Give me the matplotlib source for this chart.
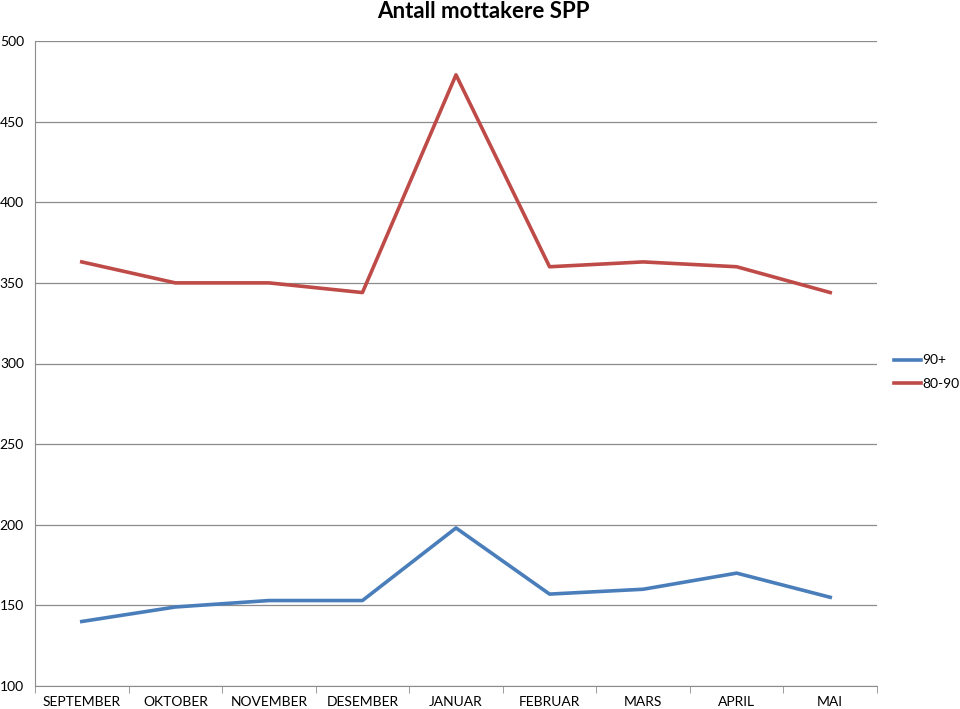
import numpy as np
import matplotlib.pyplot as plt

plt.rcParams['font.family'] = ['Lato', 'DejaVu Sans']

# Data
months = ["SEPTEMBER", "OKTOBER", "NOVEMBER", "DESEMBER", "JANUAR",
          "FEBRUAR", "MARS", "APRIL", "MAI"]
over_90 = [140, 149, 153, 153, 198, 157, 160, 170, 155]
age_80_90 = [363, 350, 350, 344, 479, 360, 363, 360, 344]

fig = plt.figure(figsize=(9.6, 7.09), dpi=100)
ax = fig.add_axes([35/960, 23/709, 842/960, 645/709])

x = np.arange(len(months))
ax.plot(x, over_90, color='#4A7EBB', linewidth=2.6, label='90+')
ax.plot(x, age_80_90, color='#BE4B48', linewidth=2.6, label='80-90')

ax.set_xlim(-0.5, len(months) - 0.5)
ax.set_ylim(100, 500)
ax.set_yticks(np.arange(100, 501, 50))
ax.yaxis.grid(True, color='#8c8c8c', linewidth=0.9)
ax.set_axisbelow(True)

# category labels at centres, tick marks on the boundaries
ax.set_xticks(x)
ax.set_xticklabels(months, fontsize=10)
ax.tick_params(axis='x', which='major', length=0, pad=7)
ax.set_xticks(np.arange(-0.5, len(months)), minor=True)
ax.tick_params(axis='x', which='minor', length=5, color='#8c8c8c')
ax.tick_params(axis='y', length=0, labelsize=10, pad=8)

for side in ['top', 'right']:
    ax.spines[side].set_visible(False)
for side in ['left', 'bottom']:
    ax.spines[side].set_color('#8c8c8c')

fig.text(483/960, 1 - 12/709, "Antall mottakere SPP", ha='center', va='center',
         fontsize=16, fontweight='bold')

fig.legend(loc='center left', bbox_to_anchor=(888/960, 1 - 372/709), frameon=False,
           fontsize=10, handlelength=2.0, handletextpad=0.05, labelspacing=0.8,
           borderaxespad=0)

fig.savefig("out.png", dpi=100)
